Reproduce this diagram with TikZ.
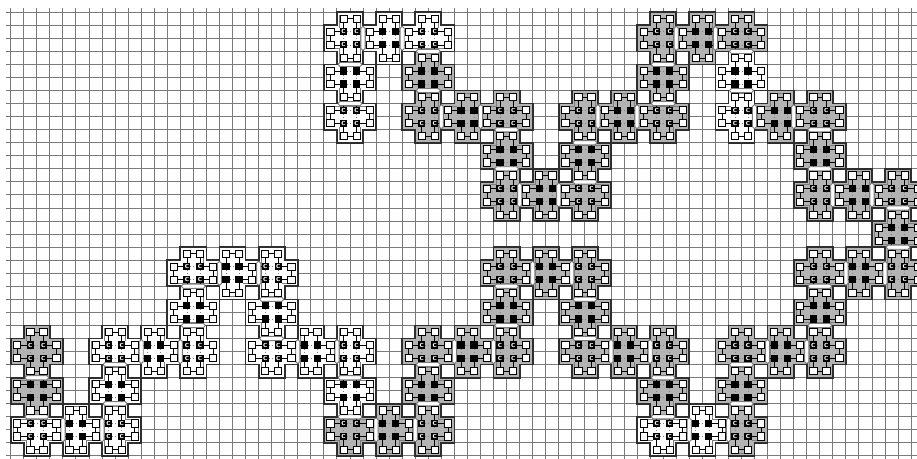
\documentclass[tikz,border=0pt]{standalone}
\pgfdeclarelayer{gridlayer}
\pgfdeclarelayer{tilelayer}
\pgfdeclarelayer{linelayer}
\pgfdeclarelayer{barlayer}
\pgfsetlayers{gridlayer,tilelayer,linelayer,barlayer,main}
\definecolor{tG}{HTML}{B3B3B3}
\definecolor{tW}{HTML}{FFFFFF}
\definecolor{gridc}{HTML}{7A7A7A}
\definecolor{outc}{HTML}{2E2E2E}
\definecolor{innc}{HTML}{7E7E7E}
\definecolor{bondc}{HTML}{7A7A7A}
\tikzset{
 gridln/.style={draw=gridc, line width=0.85pt},
 outln/.style={draw=outc, line width=1.5pt, line join=miter},
 wsq/.style={draw=black, fill=white, line width=0.6pt, minimum size=0.22cm, inner sep=0pt, outer sep=0pt},
 bsq/.style={fill=black, minimum size=0.22cm, inner sep=0pt, outer sep=0pt},
 csq/.style={bsq, text=white, font=\fontsize{7.5}{7.5}\selectfont\sffamily\bfseries},
 link/.style={draw=black, line width=0.6pt},
 dots/.style={draw=gray, line width=0.6pt, dotted},
 bond/.style={draw=bondc, fill=white, line width=0.8pt, rounded corners=1.5pt},
}
\newcommand\tshape[3]{%
 \edef\tp{(#1,#2)%
  \if#3N --(#1+2,#2)\else --(#1,#2-1)--(#1+2,#2-1)--(#1+2,#2)\fi
  \if#3E --(#1+2,#2+2)\else --(#1+3,#2)--(#1+3,#2+2)--(#1+2,#2+2)\fi
  \if#3S --(#1,#2+2)\else --(#1+2,#2+3)--(#1,#2+3)--(#1,#2+2)\fi
  \if#3W --cycle\else --(#1-1,#2+2)--(#1-1,#2)--cycle\fi}}
\newcommand\tcoords[2]{%
 \pgfmathtruncatemacro\tX{3*#1+1}\pgfmathtruncatemacro\tY{3*#2+1}%
 \pgfmathtruncatemacro\tXa{\tX+1}\pgfmathtruncatemacro\tXb{\tX+2}\pgfmathtruncatemacro\tXm{\tX-1}%
 \pgfmathtruncatemacro\tYa{\tY+1}\pgfmathtruncatemacro\tYb{\tY+2}\pgfmathtruncatemacro\tYm{\tY-1}%
 \pgfmathtruncatemacro\tpar{mod(#1+#2,2)}}
\def\tilelist{0/8/G/0,0/9/G/N,0/10/W/N,1/10/W/W,2/10/W/W,2/9/W/S,2/8/W/S,3/8/W/W,4/8/W/W,4/7/W/S,4/6/W/S,5/6/W/W,6/6/W/W,6/7/W/N,6/8/W/N,7/8/W/W,8/8/W/W,8/9/W/N,8/10/G/N,9/10/G/W,10/10/G/W,10/9/G/S,10/8/G/S,11/8/G/W,12/8/G/W,12/7/G/S,12/6/G/S,13/6/G/W,14/6/G/W,14/7/G/N,14/8/G/N,15/8/G/W,16/8/G/W,16/9/G/N,16/10/W/N,17/10/W/W,18/10/G/W,18/9/G/S,18/8/G/S,19/8/G/W,20/8/G/W,20/7/G/S,20/6/G/S,21/6/G/W,22/6/G/W,22/5/G/S,22/4/G/S,21/4/G/E,20/4/G/E,20/3/G/S,20/2/G/S,19/2/G/E,18/2/W/E,18/1/W/S,18/0/G/S,17/0/G/E,16/0/G/E,16/1/G/N,16/2/G/N,15/2/G/E,14/2/G/E,14/3/G/N,14/4/G/N,13/4/G/E,12/4/G/E,12/3/G/S,12/2/G/S,11/2/G/E,10/2/G/E,10/1/G/S,10/0/W/S,9/0/W/E,8/0/W/E,8/1/W/N,8/2/W/N}
\begin{document}
\begin{tikzpicture}[x=0.4cm,y=-0.4cm]
\useasboundingbox (-0.82,-0.94) rectangle (69.45,34.16);
\begin{pgfonlayer}{gridlayer}
\foreach \k in {0,...,34} \draw[gridln] (-0.36,\k) -- (70,\k);
\foreach \k in {0,...,69} \draw[gridln] (\k,-0.33) -- (\k,35);
\end{pgfonlayer}
% tiles and their squares
\foreach \ti/\tj/\cl/\dr in \tilelist {
 \tcoords{\ti}{\tj}
 \tshape{\tX}{\tY}{\dr}
 \edef\tcol{t\cl}
 \begin{pgfonlayer}{tilelayer}
  \begin{scope}
   \clip \tp;
   \fill[fill=\tcol] \tp;
   \draw[draw=innc, line width=5.2pt] \tp;
   \draw[draw=\tcol, line width=4.2pt] \tp;
  \end{scope}
  \draw[outln] \tp;
 \end{pgfonlayer}
 \ifnum\tpar=0
  \node[csq] (n-\tX-\tY) at (\tX+0.5,\tY+0.5) {c};
  \node[csq] (n-\tXa-\tY) at (\tXa+0.5,\tY+0.5) {c};
  \node[csq] (n-\tX-\tYa) at (\tX+0.5,\tYa+0.5) {c};
  \node[csq] (n-\tXa-\tYa) at (\tXa+0.5,\tYa+0.5) {c};
 \else
  \node[bsq] (n-\tX-\tY) at (\tX+0.5,\tY+0.5) {};
  \node[bsq] (n-\tXa-\tY) at (\tXa+0.5,\tY+0.5) {};
  \node[bsq] (n-\tX-\tYa) at (\tX+0.5,\tYa+0.5) {};
  \node[bsq] (n-\tXa-\tYa) at (\tXa+0.5,\tYa+0.5) {};
 \fi
 \if\dr N\else
  \node[wsq] (n-\tX-\tYm) at (\tX+0.5,\tYm+0.5) {};
  \node[wsq] (n-\tXa-\tYm) at (\tXa+0.5,\tYm+0.5) {};
 \fi
 \if\dr S\else
  \node[wsq] (n-\tX-\tYb) at (\tX+0.5,\tYb+0.5) {};
  \node[wsq] (n-\tXa-\tYb) at (\tXa+0.5,\tYb+0.5) {};
 \fi
 \if\dr W\else
  \node[wsq] (n-\tXm-\tY) at (\tXm+0.5,\tY+0.5) {};
  \node[wsq] (n-\tXm-\tYa) at (\tXm+0.5,\tYa+0.5) {};
 \fi
 \if\dr E\else
  \node[wsq] (n-\tXb-\tY) at (\tXb+0.5,\tY+0.5) {};
  \node[wsq] (n-\tXb-\tYa) at (\tXb+0.5,\tYa+0.5) {};
 \fi
}
% connectors and bonds
\foreach \ti/\tj/\cl/\dr in \tilelist {
 \tcoords{\ti}{\tj}
 \begin{pgfonlayer}{linelayer}
 \draw[dots] (n-\tX-\tY) -- (n-\tXa-\tY);
 \draw[dots] (n-\tX-\tYa) -- (n-\tXa-\tYa);
 \draw[dots] (n-\tX-\tY) -- (n-\tX-\tYa);
 \draw[dots] (n-\tXa-\tY) -- (n-\tXa-\tYa);
 \draw[link] (n-\tX-\tY) -- (n-\tX-\tYm);
 \draw[link] (n-\tX-\tY) -- (n-\tXm-\tY);
 \draw[link] (n-\tXa-\tY) -- (n-\tXa-\tYm);
 \draw[link] (n-\tXa-\tY) -- (n-\tXb-\tY);
 \draw[link] (n-\tX-\tYa) -- (n-\tX-\tYb);
 \draw[link] (n-\tX-\tYa) -- (n-\tXm-\tYa);
 \draw[link] (n-\tXa-\tYa) -- (n-\tXa-\tYb);
 \draw[link] (n-\tXa-\tYa) -- (n-\tXb-\tYa);
 \if\dr N\else \draw[link] (n-\tX-\tYm) -- (n-\tXa-\tYm);\fi
 \if\dr S\else \draw[link] (n-\tX-\tYb) -- (n-\tXa-\tYb);\fi
 \if\dr W\else \draw[link] (n-\tXm-\tY) -- (n-\tXm-\tYa);\fi
 \if\dr E\else \draw[link] (n-\tXb-\tY) -- (n-\tXb-\tYa);\fi
 \end{pgfonlayer}
 \begin{pgfonlayer}{barlayer}
 \if\dr N \draw[bond] (\tX+0.1,\tY-0.16) rectangle (\tXb-0.1,\tY+0.16);\fi
 \if\dr S \draw[bond] (\tX+0.1,\tYb-0.16) rectangle (\tXb-0.1,\tYb+0.16);\fi
 \if\dr W \draw[bond] (\tX-0.16,\tY+0.1) rectangle (\tX+0.16,\tYb-0.1);\fi
 \if\dr E \draw[bond] (\tXb-0.16,\tY+0.1) rectangle (\tXb+0.16,\tYb-0.1);\fi
 \end{pgfonlayer}
}
\end{tikzpicture}
\end{document}
